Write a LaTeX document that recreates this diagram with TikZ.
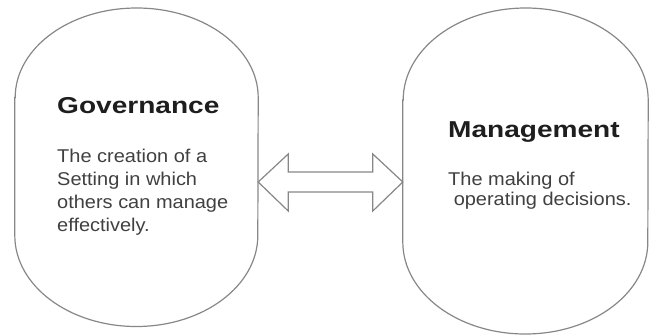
\documentclass[tikz,border=0pt]{standalone}
\usepackage{fontspec}
\setmainfont{Liberation Sans}
\newfontfamily\headfont[FakeStretch=1.22]{Liberation Sans}
\newfontfamily\bodyfont[FakeStretch=1.08]{Liberation Sans}
\usetikzlibrary{calc}
\definecolor{edge}{RGB}{135,135,135}
\definecolor{ink}{RGB}{30,30,30}
\begin{document}
\begin{tikzpicture}[x=1pt,y=-1pt,
  oval/.style={draw=none,minimum width=#1,inner sep=0pt},
  outline/.style={draw=edge,line width=1.2pt},
  head/.style={anchor=base west,inner sep=0pt,text=ink,font=\headfont\bfseries\fontsize{23}{27}\selectfont},
  body/.style={anchor=base west,inner sep=0pt,align=left,text=ink!85!white,font=\bodyfont\fontsize{18.5}{23}\selectfont}]
\useasboundingbox (0,0) rectangle (650,335);
% shape frames
\node[oval=243pt,minimum height=319pt] (gov) at (136.5,167.5) {};
\node[oval=245pt,minimum height=326pt] (mgt) at (525.5,171) {};
% left oval
\draw[outline] ($(gov.west)+(0,-70)$) -- ($(gov.west)+(0,68)$)
  arc[start angle=180,end angle=360,x radius=121.5pt,y radius=91pt]
  -- ($(gov.east)+(0,-70)$)
  arc[start angle=0,end angle=180,x radius=121.5pt,y radius=89.5pt] -- cycle;
% right oval
\draw[outline] ($(mgt.west)+(0,-71)$) -- ($(mgt.west)+(0,71)$)
  arc[start angle=180,end angle=360,x radius=122.5pt,y radius=92pt]
  -- ($(mgt.east)+(0,-71)$)
  arc[start angle=0,end angle=180,x radius=122.5pt,y radius=92pt] -- cycle;
% double arrow
\coordinate (lt) at ($(gov.east)+(0,14.5)$);
\coordinate (rt) at ($(mgt.west)+(0,11)$);
\draw[outline,line join=miter] (lt) -- ($(lt)+(30,-28)$) -- ($(lt)+(30,-10)$)
  -- ($(rt)+(-30,-10)$) -- ($(rt)+(-30,-28)$) -- (rt) -- ($(rt)+(-30,29)$)
  -- ($(rt)+(-30,10)$) -- ($(lt)+(30,10)$) -- ($(lt)+(30,29)$) -- cycle;
% texts (base anchor = last line)
\node[head] (govh) at (57,113) {Governance};
\node[body] (govb) at (57,231) {The creation of a\\Setting in which\\others can manage\\effectively.};
\node[head] (mgth) at (448,137) {Management};
\node[body,font=\bodyfont\fontsize{18.5}{20}\selectfont] (mgtb) at (448,205) {The making of\\\ operating decisions.};
\end{tikzpicture}
\end{document}
